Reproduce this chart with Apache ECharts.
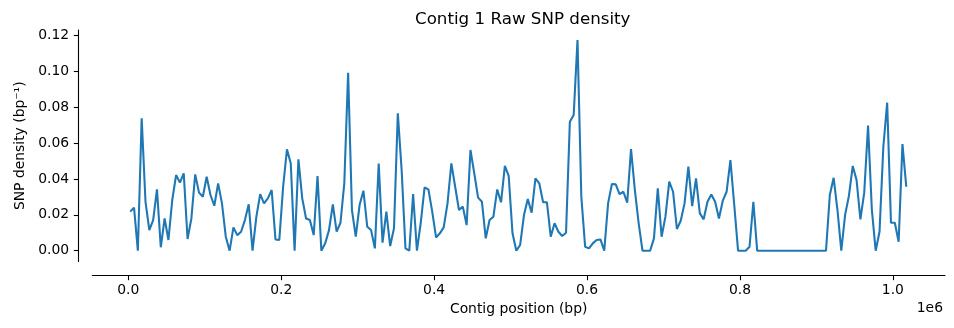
<!DOCTYPE html>
<html><head><meta charset="utf-8">
<script src="https://cdn.jsdelivr.net/npm/echarts@6/dist/echarts.min.js"></script>
<style>html,body{margin:0;padding:0;background:#fff}#c{width:954px;height:328px}</style>
</head><body><div id="c"></div>
<script>
// ---- data ----
const windowStart = 2500;
const windowStep = 5000;
const snpDensity = [
  0.0218, 0.0240, 0.0000, 0.0739, 0.0273, 0.0115, 0.0171, 0.0342, 0.0019, 0.0180,
  0.0060, 0.0283, 0.0422, 0.0380, 0.0432, 0.0065, 0.0180, 0.0426, 0.0324, 0.0301,
  0.0413, 0.0311, 0.0251, 0.0376, 0.0264, 0.0078, 0.0000, 0.0130, 0.0087, 0.0106,
  0.0171, 0.0259, 0.0000, 0.0190, 0.0316, 0.0264, 0.0292, 0.0339, 0.0063, 0.0060,
  0.0357, 0.0566, 0.0487, 0.0000, 0.0510, 0.0292, 0.0180, 0.0171, 0.0087, 0.0417,
  0.0000, 0.0041, 0.0115, 0.0259, 0.0106, 0.0156, 0.0376, 0.0993, 0.0227, 0.0078,
  0.0255, 0.0335, 0.0134, 0.0115, 0.0013, 0.0487, 0.0045, 0.0218, 0.0026, 0.0125,
  0.0767, 0.0450, 0.0013, 0.0000, 0.0316, 0.0000, 0.0156, 0.0353, 0.0342, 0.0218,
  0.0074, 0.0097, 0.0130, 0.0264, 0.0487, 0.0357, 0.0227, 0.0246, 0.0143, 0.0562,
  0.0432, 0.0296, 0.0273, 0.0069, 0.0171, 0.0190, 0.0342, 0.0270, 0.0473, 0.0417,
  0.0097, 0.0000, 0.0032, 0.0199, 0.0288, 0.0212, 0.0404, 0.0376, 0.0270, 0.0270,
  0.0078, 0.0153, 0.0106, 0.0082, 0.0100, 0.0720, 0.0757, 0.1176, 0.0301, 0.0022,
  0.0013, 0.0041, 0.0060, 0.0063, 0.0000, 0.0264, 0.0372, 0.0370, 0.0316, 0.0329,
  0.0268, 0.0567, 0.0339, 0.0153, 0.0000, 0.0000, 0.0000, 0.0069, 0.0348, 0.0078,
  0.0190, 0.0385, 0.0329, 0.0121, 0.0167, 0.0264, 0.0469, 0.0249, 0.0404, 0.0208,
  0.0175, 0.0273, 0.0314, 0.0273, 0.0180, 0.0279, 0.0329, 0.0506, 0.0255, 0.0000,
  0.0000, 0.0000, 0.0022, 0.0273, 0.0000, 0.0000, 0.0000, 0.0000, 0.0000, 0.0000,
  0.0000, 0.0000, 0.0000, 0.0000, 0.0000, 0.0000, 0.0000, 0.0000, 0.0000, 0.0000,
  0.0000, 0.0000, 0.0000, 0.0311, 0.0407, 0.0227, 0.0000, 0.0200, 0.0307, 0.0473,
  0.0394, 0.0175, 0.0324, 0.0698, 0.0227, 0.0000, 0.0106, 0.0580, 0.0826, 0.0156,
  0.0156, 0.0050, 0.0595, 0.0357
];
const xTickValues = [0, 200000, 400000, 600000, 800000, 1000000];
const xTickLabels = ['0.0', '0.2', '0.4', '0.6', '0.8', '1.0'];
const yTickValues = [0, 0.02, 0.04, 0.06, 0.08, 0.10, 0.12];
const yTickLabels = ['0.00', '0.02', '0.04', '0.06', '0.08', '0.10', '0.12'];
const titleText = 'Contig 1 Raw SNP density';
const xAxisName = 'Contig position (bp)';
const yAxisName = 'SNP density (bp\u207B\u00B9)';
const xOffsetText = '1e6';

// ---- chart ----
const FONT = 'DejaVu Sans';
const points = snpDensity.map((v, i) => [windowStart + i * windowStep, v]);
const labelFor = (vals, labels) => (v) => {
  for (let i = 0; i < vals.length; i++) if (Math.abs(vals[i] - v) < 1e-9 * Math.max(1, Math.abs(v))) return labels[i];
  return '';
};
const axisCommon = {
  axisLine: { show: true, onZero: false, lineStyle: { color: '#000', width: 1.1 } },
  splitLine: { show: false },
  nameTextStyle: { fontFamily: FONT, fontSize: 13.9, color: '#000' }
};
const chart = echarts.init(document.getElementById('c'), null, { renderer: 'canvas' });
chart.setOption({
  animation: false,
  backgroundColor: '#fff',
  title: {
    text: titleText, left: 410, top: 6,
    textStyle: { fontFamily: FONT, fontSize: 16.7, fontWeight: 'normal', color: '#000' }
  },
  grid: { left: 92.3, right: 9, top: 30, bottom: 66.5, containLabel: false, outerBoundsMode: 'none' },
  xAxis: Object.assign({}, axisCommon, {
    type: 'value', min: -47080, max: 1068140, offset: 13.8,
    axisTick: { show: true, customValues: xTickValues, length: 4.9, lineStyle: { color: '#000', width: 1.1 } },
    axisLabel: { customValues: xTickValues, formatter: labelFor(xTickValues, xTickLabels), margin: 8,
      fontFamily: FONT, fontSize: 13.9, color: '#000' },
    name: xAxisName, nameLocation: 'middle', nameGap: 27
  }),
  yAxis: Object.assign({}, axisCommon, {
    type: 'value', min: -0.00603, max: 0.12318, offset: 13.6,
    axisTick: { show: true, customValues: yTickValues, length: 4.9, lineStyle: { color: '#000', width: 1.1 } },
    axisLabel: { customValues: yTickValues, formatter: labelFor(yTickValues, yTickLabels), margin: 9.5,
      fontFamily: FONT, fontSize: 13.9, color: '#000' },
    name: yAxisName, nameLocation: 'middle', nameGap: 51
  }),
  graphic: [{
    type: 'text', right: 11, top: 301,
    style: { text: xOffsetText, fontFamily: FONT, fontSize: 13.9, fill: '#000' }
  }],
  series: [{
    type: 'line', data: points, showSymbol: false, symbol: 'none',
    lineStyle: { color: '#1f77b4', width: 2.08 }, itemStyle: { color: '#1f77b4' }
  }]
});
</script>
</body></html>
